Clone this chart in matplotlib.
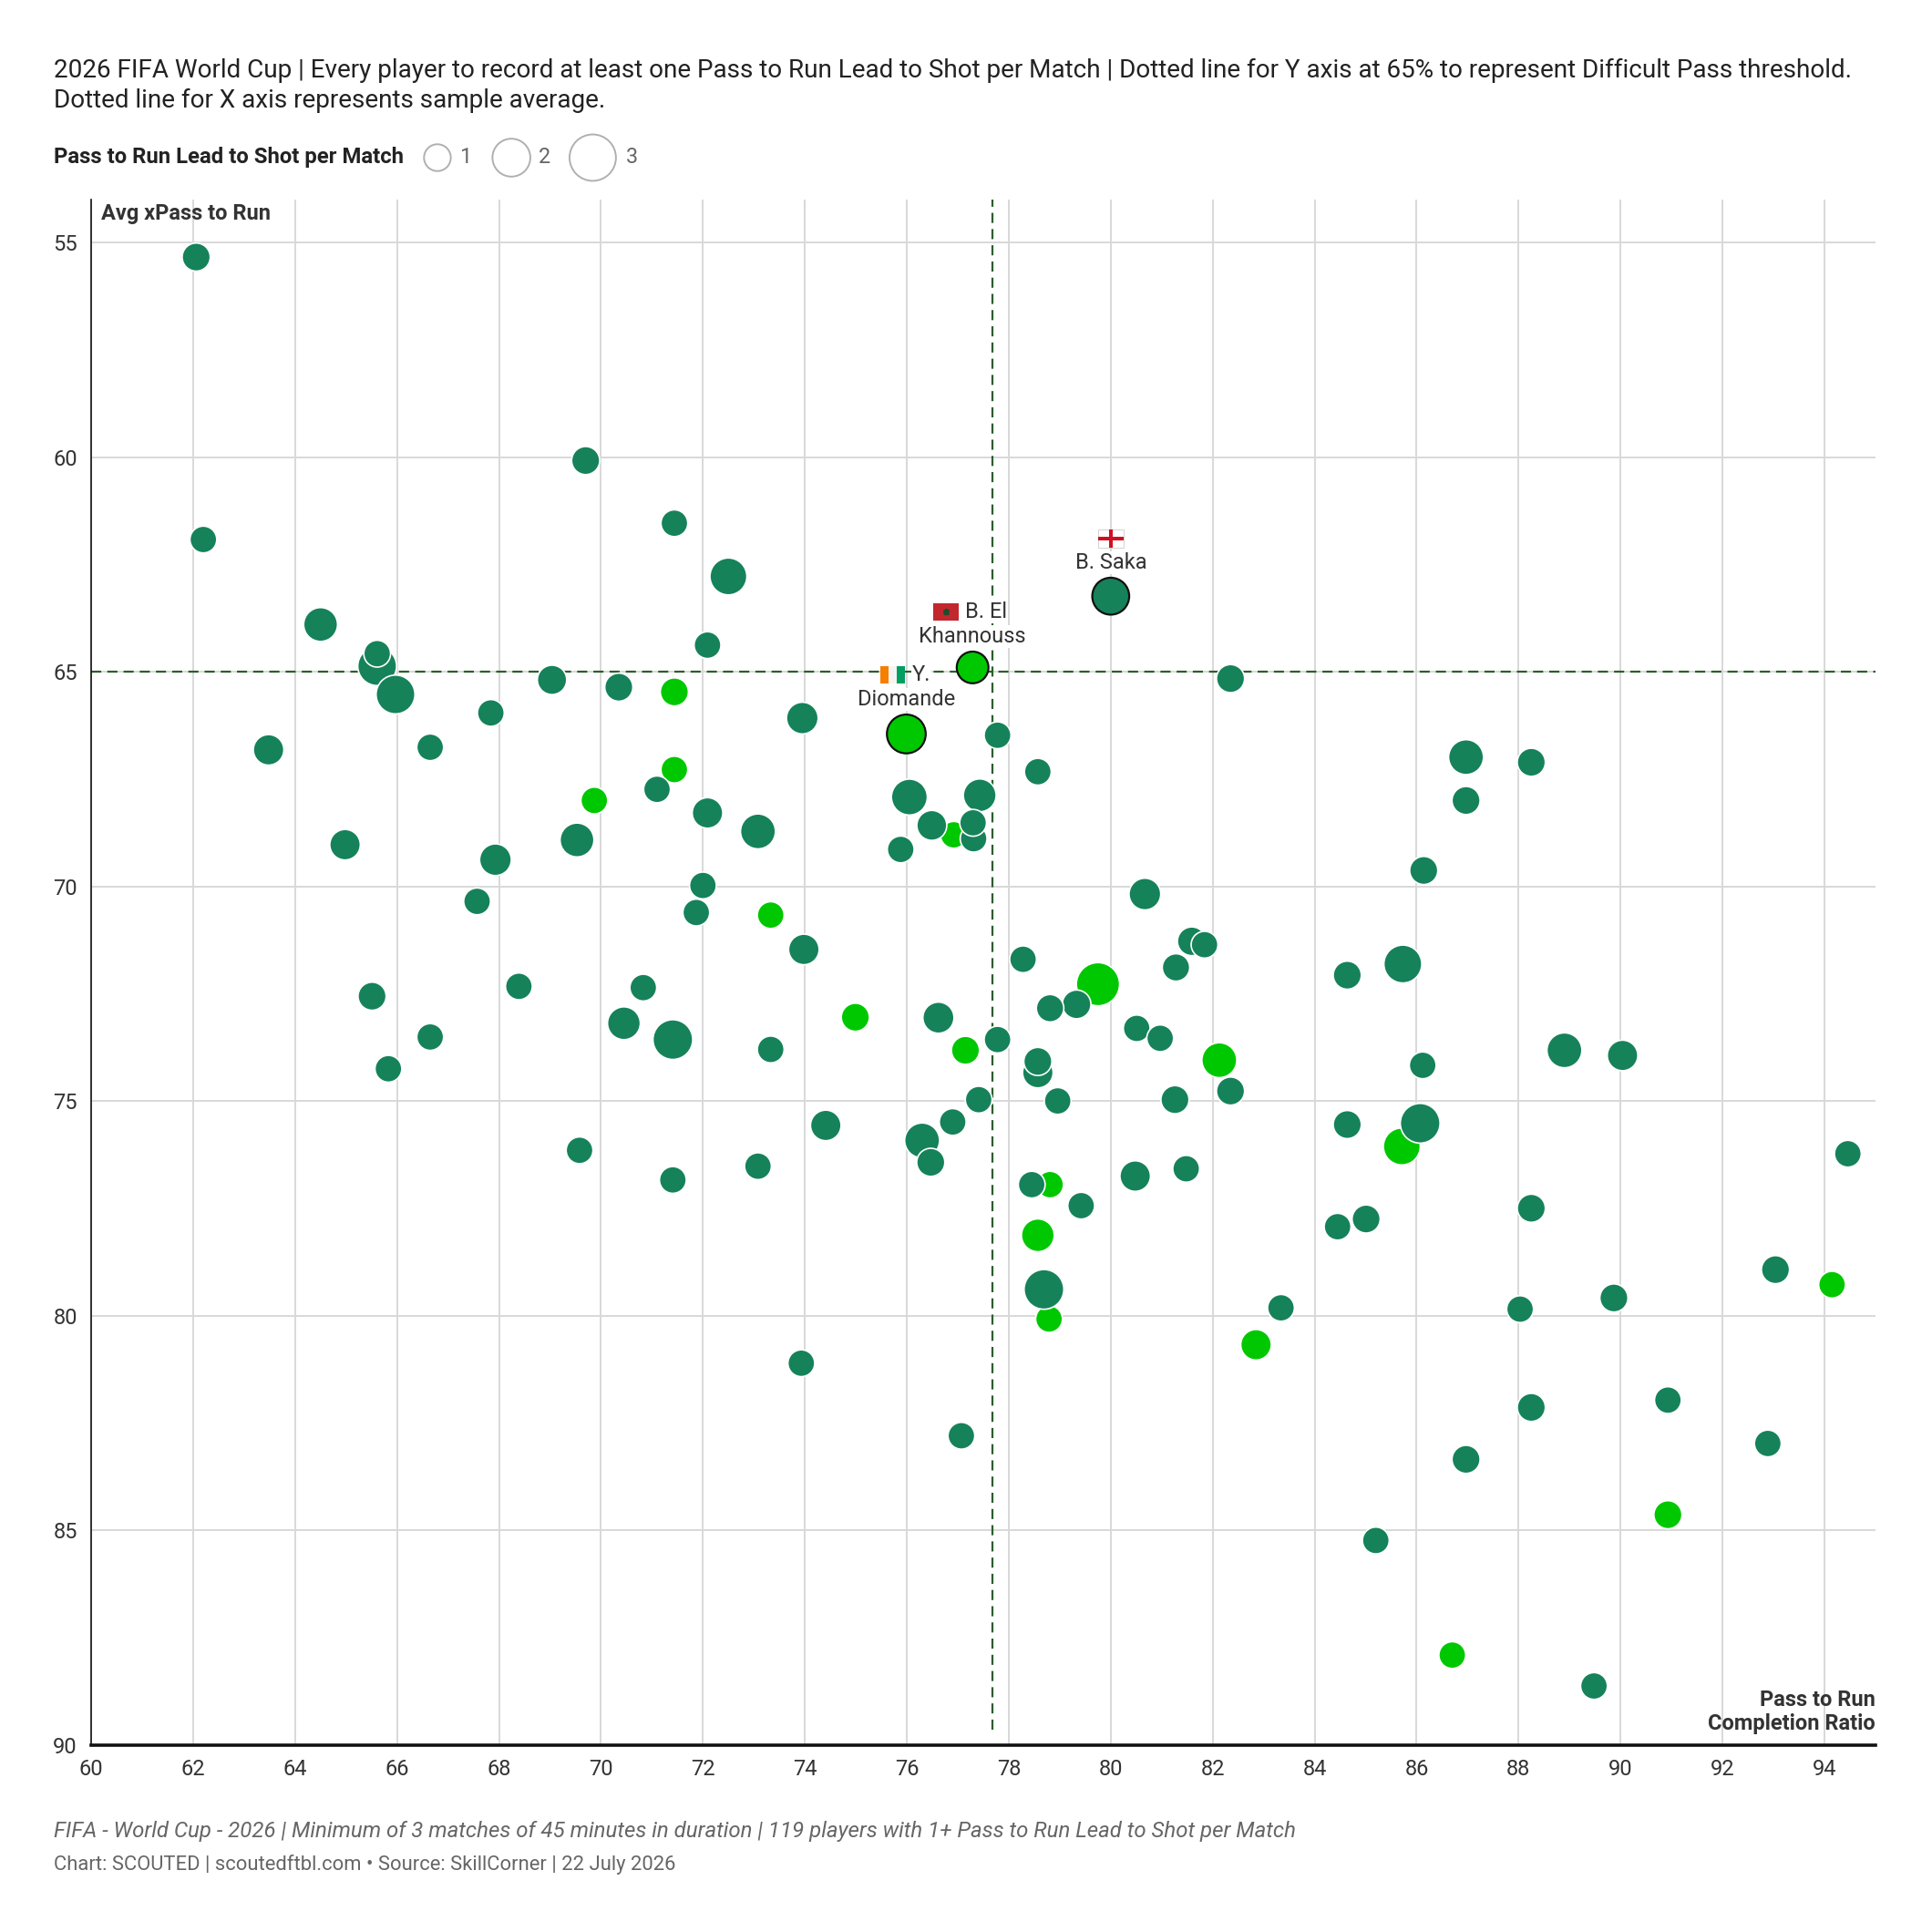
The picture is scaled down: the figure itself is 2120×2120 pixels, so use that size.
import numpy as np
import matplotlib.pyplot as plt
from matplotlib.patches import Rectangle
from matplotlib.lines import Line2D
from matplotlib.offsetbox import DrawingArea, AnnotationBbox

# values
completion = [62.06, 69.70, 62.20, 71.44, 72.50, 80.00, 64.50, 65.61, 65.61, 65.97,
              72.09, 69.04, 70.35, 71.44, 77.29, 82.35, 75.99, 73.95, 67.84, 63.48,
              66.65, 77.78, 78.57, 71.44, 71.10, 69.87, 72.09, 73.08, 76.05, 77.43,
              76.49, 77.30, 76.92, 77.31, 75.88, 64.98, 67.93, 69.53, 86.97, 88.25,
              86.97, 86.14, 80.67, 72.00, 67.57, 71.87, 73.33, 73.98, 78.28, 81.59,
              81.84, 81.28, 79.75, 84.64, 85.73, 65.51, 68.39, 70.83, 70.45, 71.41,
              66.65, 65.83, 73.33, 74.99, 76.62, 77.15, 77.78, 78.81, 79.33, 78.57,
              78.57, 80.51, 80.97, 82.13, 82.35, 81.26, 78.96, 77.41, 76.90, 76.30,
              76.47, 74.41, 73.08, 71.41, 69.58, 86.12, 88.90, 90.04, 84.64, 86.07,
              85.71, 94.46, 80.48, 81.48, 78.45, 78.81, 79.42, 78.57, 88.25, 84.45,
              85.01, 93.04, 94.15, 78.69, 78.79, 83.34, 82.85, 89.87, 88.03, 73.93,
              90.93, 88.25, 77.07, 86.97, 92.89, 90.93, 85.20, 86.70, 89.48]
xpass = [55.34, 60.08, 61.92, 61.54, 62.78, 63.24, 63.90, 64.58, 64.87, 65.53,
         64.38, 65.19, 65.36, 65.47, 64.90, 65.16, 66.45, 66.08, 65.96, 66.82,
         66.76, 66.48, 67.33, 67.28, 67.74, 68.00, 68.29, 68.72, 67.92, 67.88,
         68.58, 68.52, 68.80, 68.89, 69.14, 69.03, 69.38, 68.92, 66.99, 67.11,
         68.00, 69.63, 70.18, 69.98, 70.35, 70.61, 70.67, 71.47, 71.70, 71.28,
         71.36, 71.89, 72.28, 72.07, 71.81, 72.56, 72.33, 72.36, 73.19, 73.57,
         73.51, 74.25, 73.80, 73.05, 73.06, 73.82, 73.57, 72.84, 72.75, 74.08,
         74.34, 73.31, 73.54, 74.05, 74.77, 74.97, 75.00, 74.97, 75.49, 75.92,
         76.43, 75.57, 76.52, 76.84, 76.15, 74.17, 73.82, 73.94, 75.55, 75.52,
         76.06, 76.23, 76.75, 76.58, 76.95, 76.95, 77.44, 78.13, 77.50, 77.93,
         77.75, 78.93, 79.28, 79.39, 80.08, 79.82, 80.68, 79.59, 79.85, 81.11,
         81.97, 82.14, 82.80, 83.35, 82.98, 84.64, 85.24, 87.91, 88.63]
per_match = [1.1, 1.1, 1.0, 1.0, 1.9, 1.9, 1.6, 1.0, 2.1, 2.1,
             1.0, 1.2, 1.1, 1.1, 1.4, 1.1, 2.1, 1.4, 1.0, 1.3,
             1.0, 1.0, 1.0, 1.0, 1.0, 1.0, 1.3, 1.7, 1.8, 1.5,
             1.25, 1.0, 1.0, 1.0, 1.0, 1.3, 1.4, 1.6, 1.7, 1.1,
             1.1, 1.1, 1.4, 1.0, 1.0, 1.0, 1.0, 1.3, 1.0, 1.15,
             1.0, 1.05, 2.6, 1.1, 2.0, 1.1, 1.0, 1.0, 1.5, 2.2,
             1.0, 1.0, 1.0, 1.1, 1.35, 1.1, 1.0, 1.05, 1.15, 1.1,
             1.3, 1.0, 1.0, 1.7, 1.1, 1.1, 1.0, 1.0, 1.0, 1.7,
             1.1, 1.3, 1.0, 1.0, 1.0, 1.0, 1.7, 1.3, 1.1, 2.2,
             1.9, 1.0, 1.3, 1.0, 1.0, 1.0, 1.0, 1.5, 1.1, 1.0,
             1.1, 1.1, 1.0, 2.2, 1.0, 1.0, 1.3, 1.1, 1.0, 1.0,
             1.0, 1.1, 1.0, 1.1, 1.0, 1.1, 1.0, 1.0, 1.0]
# bright green points
bright = [13, 14, 16, 23, 25, 32, 46, 52, 63, 65, 73, 90, 95, 97, 102, 104, 106, 115, 117]
# labelled players: index -> (first line, second line, flag)
labelled = {5: ("B. Saka", None, "eng"),
            14: ("B. El", "Khannouss", "mar"),
            16: ("Y.", "Diomande", "civ")}
legend_vals = [1, 2, 3]
DIFFICULT = 65
X_AVG = 77.68

DARK = "#15825A"
LIGHT = "#00C800"
LINE = "#2B5E2B"
TXT = "#333333"
K = 112  # scatter area per unit

# horizontal offsets (pt) of flag and first line for two-line labels
first_line_dx = {14: (-10.5, -2.9), 16: (-5.4, 2.2)}

plt.rcParams['font.family'] = ['Roboto', 'DejaVu Sans']

fig = plt.figure(figsize=(10.6, 10.6), dpi=200)
ax = fig.add_axes([0.0472, 0.0969, 0.9235, 0.7998])

x = np.array(completion)
y = np.array(xpass)
v = np.array(per_match)
col = np.array([LIGHT if i in bright else DARK for i in range(len(x))])

is_b = np.array([i in bright for i in range(len(x))])
is_l = np.array([i in labelled for i in range(len(x))])

# bright first, then dark, labelled on top
for mask, z in [(is_b & ~is_l, 3), (~is_b & ~is_l, 4)]:
    order = np.argsort(-v[mask])
    ax.scatter(x[mask][order], y[mask][order], s=K * v[mask][order], c=col[mask][order],
               edgecolors="white", linewidths=0.6, zorder=z)
ax.scatter(x[is_l], y[is_l], s=K * v[is_l], c=col[is_l], edgecolors="#111111",
           linewidths=0.8, zorder=5)

ax.axhline(DIFFICULT, color=LINE, lw=0.8, dashes=(5, 3), zorder=2)
ax.axvline(X_AVG, ymin=0.01, color=LINE, lw=0.8, dashes=(5, 3), zorder=2)


def flag(code):
    w, h = 10, 7
    da = DrawingArea(w, h, 0, 0)
    if code == "eng":
        da.add_artist(Rectangle((0, 0), w, h, fc="white", ec="#cccccc", lw=0.3))
        da.add_artist(Rectangle((w / 2 - 0.8, 0), 1.6, h, fc="#CE1124", ec="none"))
        da.add_artist(Rectangle((0, h / 2 - 0.8), w, 1.6, fc="#CE1124", ec="none"))
    elif code == "mar":
        da.add_artist(Rectangle((0, 0), w, h, fc="#C1272D", ec="none"))
        da.add_artist(Line2D([w / 2], [h / 2], marker="*", ms=2.5, color="#1f4d2a", lw=0))
    else:
        da.add_artist(Rectangle((0, 0), w / 3, h, fc="#F77F00", ec="none"))
        da.add_artist(Rectangle((w / 3, 0), w / 3, h, fc="#f4f4f4", ec="none"))
        da.add_artist(Rectangle((2 * w / 3, 0), w / 3, h, fc="#009E60", ec="none"))
    return da


halo = dict(fc="white", ec="none", pad=0.3)
for i, (l1, l2, code) in labelled.items():
    r = np.sqrt(K * v[i]) / 2
    base = r + 6
    if l2 is None:
        ax.annotate(l1, (x[i], y[i]), xytext=(0, base), textcoords="offset points",
                    ha="center", va="center", fontsize=8.5, color=TXT, zorder=6, bbox=halo)
        ab = AnnotationBbox(flag(code), (x[i], y[i]), xybox=(0, base + 9.5),
                            boxcoords="offset points", frameon=False, zorder=6)
        ax.add_artist(ab)
    else:
        fdx, tdx = first_line_dx[i]
        ax.annotate(l2, (x[i], y[i]), xytext=(0, base), textcoords="offset points",
                    ha="center", va="center", fontsize=8.5, color=TXT, zorder=6, bbox=halo)
        ax.annotate(l1, (x[i], y[i]), xytext=(tdx, base + 9.7), textcoords="offset points",
                    ha="left", va="center", fontsize=8.5, color=TXT, zorder=6, bbox=halo)
        ab = AnnotationBbox(flag(code), (x[i], y[i]), xybox=(fdx, base + 9.7),
                            boxcoords="offset points", frameon=False, zorder=6)
        ax.add_artist(ab)

ax.set_xlim(60, 95)
ax.set_ylim(90, 54)
ax.set_xticks(np.arange(60, 95, 2))
ax.set_yticks(np.arange(55, 91, 5))
ax.tick_params(length=0, labelsize=8.5, labelcolor=TXT, pad=5.5)
ax.grid(True, color="#d8d8d8", lw=0.7, zorder=0)
ax.set_axisbelow(True)
for s in ["top", "right"]:
    ax.spines[s].set_visible(False)
ax.spines["left"].set_linewidth(0.6)
ax.spines["bottom"].set_linewidth(1.3)
ax.spines["left"].set_color("#111111")
ax.spines["bottom"].set_color("#111111")

ax.text(0.0055, 0.991, "Avg xPass to Run", transform=ax.transAxes, ha="left", va="center",
        fontsize=8.5, fontweight="bold", color=TXT)
ax.text(1.0, 0.007, "Pass to Run\nCompletion Ratio", transform=ax.transAxes, ha="right",
        va="bottom", fontsize=8.5, fontweight="bold", color=TXT, linespacing=1.15)

fig.text(0.028, 0.9636, "2026 FIFA World Cup | Every player to record at least one Pass to Run "
         "Lead to Shot per Match | Dotted line for Y axis at 65% to represent Difficult Pass threshold.",
         ha="left", va="center", fontsize=10.05, color="#222222")
fig.text(0.028, 0.9477, "Dotted line for X axis represents sample average.",
         ha="left", va="center", fontsize=10.05, color="#222222")

# size legend
fig.text(0.028, 0.9184, "Pass to Run Lead to Shot per Match", ha="left", va="center",
         fontsize=8.6, fontweight="bold", color="#222222")
lax = fig.add_axes([0, 0, 1, 1], facecolor="none")
lax.set_xlim(0, 1)
lax.set_ylim(0, 1)
lax.axis("off")
for val, cx, tx in zip(legend_vals, [0.2264, 0.2647, 0.3068], [0.2411, 0.2819, 0.3272]):
    lax.scatter([cx], [0.9184], s=K * val, facecolors="none", edgecolors="#b0b0b0", linewidths=0.7)
    lax.text(tx, 0.9184, str(val), ha="center", va="center", fontsize=8.4, color="#666666")

fig.text(0.028, 0.0523, "FIFA - World Cup - 2026 | Minimum of 3 matches of 45 minutes in duration | "
         "119 players with 1+ Pass to Run Lead to Shot per Match",
         ha="left", va="center", fontsize=8.65, style="italic", color="#666666")
fig.text(0.028, 0.035, "Chart: SCOUTED | scoutedftbl.com \u2022 Source: SkillCorner | 22 July 2026",
         ha="left", va="center", fontsize=7.95, color="#666666")

fig.savefig("out.png", dpi=200, facecolor="white")
